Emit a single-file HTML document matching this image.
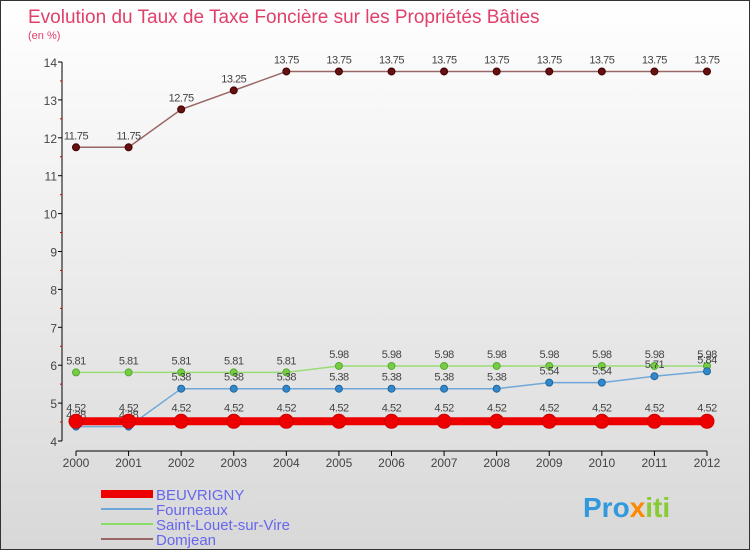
<!DOCTYPE html>
<html><head><meta charset="utf-8"><style>
body{margin:0}
#c{width:750px;height:550px;position:relative;overflow:hidden;font-family:"Liberation Sans",sans-serif;background:linear-gradient(#ffffff,#d8d8d8);box-sizing:border-box;border:1px solid #333}
</style></head><body>
<div id="c">
<svg id="s" width="750" height="550" style="position:absolute;left:0;top:0">
<text x="27" y="22" font-size="19" fill="#e0406a">Evolution du Taux de Taxe Foncière sur les Propriétés Bâties</text>
<text x="27" y="38" font-size="11" fill="#e0406a">(en %)</text>
<g id="ax"></g><g id="ser"></g>
<g>
<rect x="100" y="489" width="52" height="8" fill="#ee0000"/>
<text x="155" y="499" font-size="15" fill="#6666ee">BEUVRIGNY</text>
<rect x="100" y="507" width="52" height="2" fill="#6fa8d8"/>
<text x="155" y="514" font-size="15" fill="#6666ee">Fourneaux</text>
<rect x="100" y="522" width="52" height="2" fill="#88dd66"/>
<text x="155" y="529" font-size="15" fill="#6666ee">Saint-Louet-sur-Vire</text>
<rect x="100" y="537" width="52" height="2" fill="#996666"/>
<text x="155" y="544" font-size="15" fill="#6666ee">Domjean</text>
</g>
<text x="582" y="516" font-size="28" font-weight="bold" fill="#3399dd">Pro<tspan fill="#ff8800">x</tspan><tspan fill="#88cc33">iti</tspan></text>
</svg>
</div>
<script>
const years=[2000,2001,2002,2003,2004,2005,2006,2007,2008,2009,2010,2011,2012];
const beuvrigny=[4.52,4.52,4.52,4.52,4.52,4.52,4.52,4.52,4.52,4.52,4.52,4.52,4.52];
const fourneaux=[4.38,4.38,5.38,5.38,5.38,5.38,5.38,5.38,5.38,5.54,5.54,5.71,5.84];
const saintLouet=[5.81,5.81,5.81,5.81,5.81,5.98,5.98,5.98,5.98,5.98,5.98,5.98,5.98];
const domjean=[11.75,11.75,12.75,13.25,13.75,13.75,13.75,13.75,13.75,13.75,13.75,13.75,13.75];
const yTicks=[4,5,6,7,8,9,10,11,12,13,14];
const NS="http://www.w3.org/2000/svg";
const X=i=>75+i*(706-75)/(years.length-1);
const Y=v=>440-(v-4)*37.9;
function mk(t,a,p){const e=document.createElementNS(NS,t);for(const k in a)e.setAttribute(k,a[k]);p.appendChild(e);return e;}
const ax=document.getElementById('ax'),ser=document.getElementById('ser');
let l=mk('line',{x1:61,y1:Y(14),x2:61,y2:Y(4),stroke:'#000'},ax);


yTicks.forEach(v=>{
 mk('line',{x1:57,x2:61,y1:Y(v),y2:Y(v),stroke:'#000'},ax);
 if(v<14)mk('line',{x1:59,x2:61,y1:Y(v+0.5),y2:Y(v+0.5),stroke:'#d00'},ax);
 const t=mk('text',{x:56,y:Y(v)+5,'text-anchor':'end','font-size':12,fill:'#444'},ax);t.textContent=v;
 
 
});
l=mk('line',{x1:75,y1:450,x2:706,y2:450,stroke:'#000'},ax);


years.forEach((y,i)=>{
 mk('line',{x1:X(i),x2:X(i),y1:450,y2:455,stroke:'#000'},ax);
 const t=mk('text',{x:X(i),y:466,'text-anchor':'middle','font-size':12,fill:'#444'},ax);t.textContent=y;
 
 
});
function series(vals,name,color,lw,dot,dotFill,dotStroke,lblDy){
 const g=mk('g',{},ser);
 
 
 const p=mk('polyline',{points:vals.map((v,i)=>X(i)+','+Y(v)).join(' '),fill:'none',stroke:color,'stroke-width':lw},g);
 
 
 vals.forEach((v,i)=>{
  const c=mk('circle',{cx:X(i),cy:Y(v),r:dot,fill:dotFill,stroke:dotStroke},g);
  
  
  const t=mk('text',{x:X(i),y:Y(v)+lblDy,'text-anchor':'middle','font-size':11,fill:'#444','letter-spacing':'-0.5'},g);
  t.textContent=v;
  
  
 });
}
series(domjean,'domjean','#996666',1.5,3.5,'#661111','#440000',-8);
series(saintLouet,'saint-louet','#99dd77',1.5,3.5,'#77cc44','#55aa33',-8);
series(fourneaux,'fourneaux','#6fa8d8',1.5,3.5,'#3388cc','#226699',-8);
series(beuvrigny,'beuvrigny','#ee0000',8,7,'#ee0000','#cc0000',-10);
</script>
</body></html>
